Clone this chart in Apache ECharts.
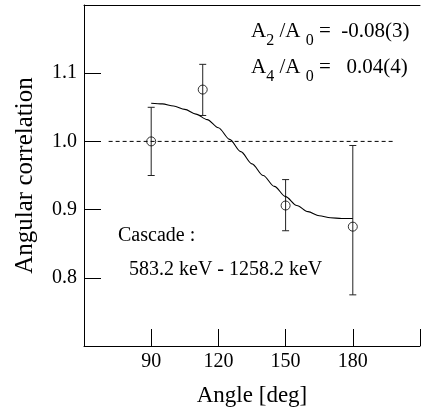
<!DOCTYPE html>
<html>
<head>
<meta charset="utf-8">
<script src="https://cdn.jsdelivr.net/npm/echarts@6/dist/echarts.min.js"></script>
<style>
html,body{margin:0;padding:0;background:#fff;}
#chart{width:423px;height:415px;}
</style>
</head>
<body>
<div id="chart"></div>
<script>
// Measured data points (angle in degrees, angular correlation)
const angles = [90, 113, 150, 180];
const values = [1.000, 1.076, 0.906, 0.875];
const errLow = [0.950, 1.038, 0.869, 0.775];
const errHigh = [1.050, 1.113, 0.944, 0.994];

// Fitted curve
const fitAngles = [90, 95, 100, 105, 110, 115, 120, 125, 130, 135, 140, 145, 150, 155, 160, 165, 170, 175, 180];
const fitValues = [1.056, 1.055, 1.052, 1.047, 1.040, 1.032, 1.020, 1.003, 0.985, 0.967, 0.950, 0.934, 0.919, 0.906, 0.897, 0.891, 0.888, 0.887, 0.887];

// Reference (isotropic) line
const refAngles = [71, 199];
const refValues = [1.0, 1.0];

// Axis tick labels
const xTickLabels = ['90', '120', '150', '180'];
const yTickLabels = ['0.8', '0.9', '1.0', '1.1'];

// Annotations
const ratioLines = [
  {sub: '2', value: ' -0.08(3)'},
  {sub: '4', value: '  0.04(4)'}
];
const cascadeTitle = 'Cascade :';
const cascadeText = '583.2 keV - 1258.2 keV';
const xName = 'Angle [deg]';
const yName = 'Angular correlation';

const FONT = '"Liberation Serif", "Times New Roman", serif';

const chart = echarts.init(document.getElementById('chart'), null, {renderer: 'canvas'});

const errData = angles.map((a, i) => [a, errLow[i], errHigh[i]]);
const pointData = angles.map((a, i) => [a, values[i]]);
const fitData = fitAngles.map((a, i) => [a, fitValues[i]]);
const refData = refAngles.map((a, i) => [a, refValues[i]]);

const option = {
  animation: false,
  backgroundColor: '#fff',
  grid: {left: 84, right: -2, top: 5, bottom: 69, containLabel: false},
  xAxis: [{
    type: 'value', min: 60, max: 210, interval: 30,
    name: xName, nameLocation: 'middle', nameGap: 38,
    nameTextStyle: {fontFamily: FONT, fontSize: 23, color: '#000'},
    axisLine: {show: true, lineStyle: {color: '#000', width: 1}},
    axisTick: {show: true, inside: true, length: 17, lineStyle: {color: '#000', width: 1}},
    axisLabel: {
      margin: 6, fontFamily: FONT, fontSize: 20, color: '#000',
      formatter: v => xTickLabels.includes(String(v)) ? String(v) : ''
    },
    splitLine: {show: false}
  }, {
    type: 'value', min: 60, max: 210, position: 'top',
    axisLine: {show: true, onZero: false, lineStyle: {color: '#000', width: 1}},
    axisTick: {show: false}, axisLabel: {show: false}, splitLine: {show: false}
  }],
  yAxis: {
    type: 'value', min: 0.7, max: 1.2, interval: 0.1,
    name: yName, nameLocation: 'middle', nameGap: 46, nameRotate: 90,
    nameTextStyle: {fontFamily: FONT, fontSize: 25, color: '#000'},
    axisLine: {show: true, lineStyle: {color: '#000', width: 1}},
    axisTick: {show: true, inside: true, length: 17, lineStyle: {color: '#000', width: 1}},
    axisLabel: {
      margin: 7, fontFamily: FONT, fontSize: 20, color: '#000',
      formatter: v => { const s = v.toFixed(1); return yTickLabels.includes(s) ? s : ''; }
    },
    splitLine: {show: false}
  },
  series: [
    {
      type: 'line', data: refData, symbol: 'none', silent: true,
      lineStyle: {color: '#000', width: 1, type: [4, 3]}
    },
    {
      type: 'line', data: fitData, symbol: 'none', smooth: 0.3, smoothMonotone: 'x', silent: true,
      lineStyle: {color: '#000', width: 1.1}
    },
    {
      type: 'custom', data: errData,
      renderItem: function (params, api) {
        const x = api.value(0);
        const lo = api.coord([x, api.value(1)]);
        const hi = api.coord([x, api.value(2)]);
        const hw = 3.5;
        const st = {stroke: '#222', lineWidth: 1, fill: null};
        return {
          type: 'group',
          children: [
            {type: 'line', shape: {x1: lo[0], y1: lo[1], x2: hi[0], y2: hi[1]}, style: st},
            {type: 'line', shape: {x1: lo[0] - hw, y1: lo[1], x2: lo[0] + hw, y2: lo[1]}, style: st},
            {type: 'line', shape: {x1: hi[0] - hw, y1: hi[1], x2: hi[0] + hw, y2: hi[1]}, style: st}
          ]
        };
      },
      z: 3
    },
    {
      type: 'scatter', data: pointData, symbol: 'circle', symbolSize: 9,
      itemStyle: {color: 'rgba(0,0,0,0)', borderColor: '#000', borderWidth: 1},
      z: 4
    }
  ],
  graphic: [
    ...ratioLines.map((r, i) => ({
      type: 'text', left: 251, top: 13 + i * 36,
      style: {
        text: 'A{sub|' + r.sub + '} /A {sub|0} = ' + r.value,
        fontFamily: FONT, fontSize: 21, fill: '#000',
        rich: {
          sub: {fontFamily: FONT, fontSize: 16, lineHeight: 25, verticalAlign: 'bottom'}
        },
        lineHeight: 36
      }
    })),
    {
      type: 'text', left: 118, top: 226,
      style: {text: cascadeTitle, fontFamily: FONT, fontSize: 20, fill: '#000'}
    },
    {
      type: 'text', left: 129, top: 260,
      style: {text: cascadeText, fontFamily: FONT, fontSize: 20, fill: '#000'}
    }
  ]
};
chart.setOption(option);
</script>
</body>
</html>
